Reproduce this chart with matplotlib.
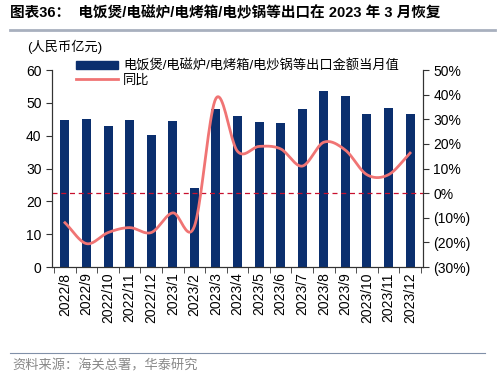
import matplotlib
matplotlib.use("Agg")
import matplotlib.pyplot as plt
import numpy as np
from matplotlib.lines import Line2D

plt.rcParams["font.family"] = ["Liberation Sans", "Noto Sans CJK SC", "DejaVu Sans"]

months = ["2022/8", "2022/9", "2022/10", "2022/11", "2022/12", "2023/1", "2023/2",
          "2023/3", "2023/4", "2023/5", "2023/6", "2023/7", "2023/8", "2023/9",
          "2023/10", "2023/11", "2023/12"]
export_value = [44.7, 45.0, 43.0, 44.8, 40.1, 44.6, 24.2, 48.0, 46.0, 44.1,
                43.8, 48.2, 53.7, 52.2, 46.5, 48.5, 46.7]
yoy = [-12.0, -20.5, -16.0, -14.0, -16.0, -8.0, -13.5, 38.5, 17.0, 19.0,
       18.0, 11.0, 20.7, 17.5, 7.5, 7.5, 16.3]

bar_color = "#0B2F6E"
line_color = "#F07474"


def smooth(x, y, n=20):
    # Catmull-Rom style smoothing, like a smoothed Excel line
    x = np.asarray(x, float)
    y = np.asarray(y, float)
    px = np.concatenate([[2 * x[0] - x[1]], x, [2 * x[-1] - x[-2]]])
    py = np.concatenate([[2 * y[0] - y[1]], y, [2 * y[-1] - y[-2]]])
    xs, ys = [], []
    t = np.linspace(0, 1, n, endpoint=False)
    for i in range(1, len(px) - 2):
        for arr, out in ((px, xs), (py, ys)):
            p0, p1, p2, p3 = arr[i - 1], arr[i], arr[i + 1], arr[i + 2]
            out.extend(0.5 * (2 * p1 + (-p0 + p2) * t
                              + (2 * p0 - 5 * p1 + 4 * p2 - p3) * t ** 2
                              + (-p0 + 3 * p1 - 3 * p2 + p3) * t ** 3))
    xs.append(x[-1])
    ys.append(y[-1])
    return np.array(xs), np.array(ys)


fig = plt.figure(figsize=(5.0, 3.79), dpi=100)
ax = fig.add_axes([0.104, 0.2955, 0.742, 0.5195])
ax2 = ax.twinx()

x = np.arange(len(months))
ax.bar(x, export_value, width=0.42, color=bar_color, zorder=2)
ax.set_xlim(-0.6, len(months) - 0.4)
ax.set_ylim(0, 60)
ax.set_yticks(range(0, 61, 10))
ax.set_xticks(x)
ax.set_xticklabels(months, rotation=90, fontsize=10)
ax.set_xticks(np.arange(-0.5, len(months), 1), minor=True)
ax.tick_params(axis="x", which="major", length=0, pad=4)
ax.tick_params(axis="x", which="minor", length=4, color="#333333")
ax.tick_params(axis="y", labelsize=10, length=4, color="#333333")

sx, sy = smooth(x, yoy)
ax2.plot(sx, sy, color=line_color, lw=2, zorder=3)
ax2.axhline(0, color="#C8102E", lw=0.9, ls=(0, (4, 3)))
ax2.set_ylim(-30, 50)
ax2.set_yticks(range(-30, 51, 10))
ax2.set_yticklabels([f"({-v}%)" if v < 0 else f"{v}%" for v in range(-30, 51, 10)])
ax2.tick_params(axis="y", labelsize=10, length=4, color="#333333")

for a in (ax, ax2):
    a.spines["top"].set_visible(False)
    for s in ("left", "right", "bottom"):
        a.spines[s].set_color("#333333")

handles = [plt.Rectangle((0, 0), 1, 1, color=bar_color),
           Line2D([0], [0], color=line_color, lw=2)]
labels = ["电饭煲/电磁炉/电烤箱/电炒锅等出口金额当月值", "同比"]
ax.legend(handles, labels, loc="upper left", bbox_to_anchor=(0.05, 1.08),
          frameon=False, fontsize=9.5, handlelength=3.2, handleheight=0.6,
          labelspacing=0.1, borderaxespad=0, handletextpad=0.4)

fig.text(0.054, 0.866, "(人民币亿元)", fontsize=9.5)
fig.text(0.02, 0.965, "图表36：  电饭煲/电磁炉/电烤箱/电炒锅等出口在 2023 年 3 月恢复",
         fontsize=10.5, fontweight="bold", va="center")
fig.add_artist(Line2D([0.02, 0.99], [0.921, 0.921], color="#A8B0BE", lw=2))
fig.add_artist(Line2D([0.02, 0.97], [0.069, 0.069], color="#8090A8", lw=0.8))
fig.text(0.024, 0.035, "资料来源：海关总署，华泰研究", fontsize=9.5, color="#888888", va="center")

fig.savefig("out.png", dpi=100)
